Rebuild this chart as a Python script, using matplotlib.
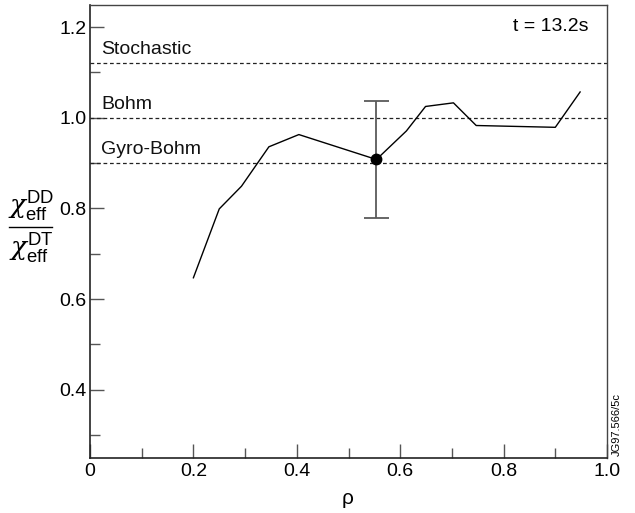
import matplotlib
matplotlib.use("Agg")
import matplotlib.pyplot as plt
from matplotlib.lines import Line2D
from matplotlib.ticker import MultipleLocator, FixedLocator

plt.rcParams['font.family'] = ['Liberation Sans', 'DejaVu Sans']
plt.rcParams['mathtext.fontset'] = 'custom'
plt.rcParams['mathtext.rm'] = 'Liberation Sans'
plt.rcParams['mathtext.it'] = 'DejaVu Serif:italic'

rho = [0.20, 0.25, 0.293, 0.346, 0.404, 0.554, 0.612, 0.649, 0.703, 0.747, 0.900, 0.948]
ratio = [0.647, 0.799, 0.849, 0.936, 0.963, 0.908, 0.971, 1.025, 1.033, 0.983, 0.979, 1.057]

err_x = [0.554]
err_y = [0.908]
err_low = [0.130]
err_high = [0.128]

ref_levels = [1.12, 1.00, 0.90]
ref_names = ["Stochastic", "Bohm", "Gyro-Bohm"]

fig = plt.figure(figsize=(6.35, 5.13), dpi=100)
ax = fig.add_axes([90/635, 1-457.7/513, 517/635, (457.7-4.5)/513])

for lv, nm in zip(ref_levels, ref_names):
    ax.axhline(lv, color='#222222', lw=0.9, ls=(0, (3, 2.2)))
    ax.text(0.022, lv + 0.02, nm, fontsize=14, ha='left', va='baseline', color='#111111')

ax.plot(rho, ratio, color='black', lw=1.0)
ax.errorbar(err_x, err_y, yerr=[err_low, err_high], fmt='o', color='black',
            ecolor='#5a5a5a', elinewidth=1.3, capsize=9, capthick=1.3, markersize=7.5, zorder=5)

ax.set_xlim(0, 1.0)
ax.set_ylim(0.25, 1.25)
ax.xaxis.set_major_locator(FixedLocator([0, 0.2, 0.4, 0.6, 0.8, 1.0]))
ax.xaxis.set_minor_locator(MultipleLocator(0.1))
ax.yaxis.set_major_locator(FixedLocator([0.4, 0.6, 0.8, 1.0, 1.2]))
ax.yaxis.set_minor_locator(MultipleLocator(0.1))
ax.set_xticklabels(['0', '0.2', '0.4', '0.6', '0.8', '1.0'])
ax.set_yticklabels(['0.4', '0.6', '0.8', '1.0', '1.2'])
ax.tick_params(which='both', direction='in', top=False, right=False, labelsize=14,
               color='#555555', width=1.0)
ax.tick_params(which='major', length=10)
ax.tick_params(which='minor', length=7)
ax.tick_params(axis='x', which='major', pad=3.5)
ax.tick_params(axis='y', which='major', pad=2.5)

for s in ['left', 'bottom']:
    ax.spines[s].set_color('#222222')
    ax.spines[s].set_linewidth(1.2)
for s in ['top', 'right']:
    ax.spines[s].set_color('#444444')
    ax.spines[s].set_linewidth(1.0)

ax.text(0.965, 1.192, 't = 13.2s', ha='right', va='baseline', fontsize=14,
        transform=ax.get_yaxis_transform())

fig.text(348/635, 1-499/513, 'ρ', ha='center', va='center', fontsize=15)

fig.text(31/635, 1-207/513, r'$\chi^{\mathrm{DD}}_{\mathrm{eff}}$', ha='center', va='center', fontsize=19)
fig.add_artist(Line2D([9/635, 52/635], [1-227/513, 1-227/513], color='black', lw=1.0,
                      transform=fig.transFigure))
fig.text(31/635, 1-249/513, r'$\chi^{\mathrm{DT}}_{\mathrm{eff}}$', ha='center', va='center', fontsize=19)

fig.text(617/635, 1-425/513, 'JG97.566/5c', rotation=90, ha='center', va='center', fontsize=8)

fig.savefig('out.png', dpi=100)
